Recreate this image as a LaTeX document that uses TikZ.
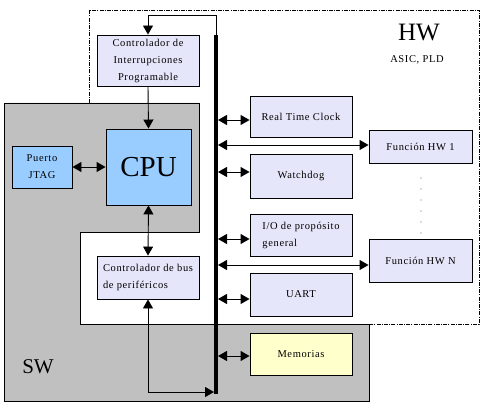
\documentclass[tikz,border=0pt]{standalone}
\usepackage{fontspec}
\setmainfont{Liberation Serif}
\newfontfamily\spaced[LetterSpace=6]{Liberation Serif}
\usetikzlibrary{arrows.meta}
\definecolor{lav}{RGB}{230,230,250}
\definecolor{lblue}{RGB}{153,204,255}
\definecolor{gry}{RGB}{192,192,192}
\definecolor{lyel}{RGB}{255,255,204}
\tikzset{
  box/.style={draw=black, line width=0.9pt, fill=lav, inner sep=0pt, font=\spaced\fontsize{10.5}{17}\selectfont},
  conn/.style={line width=0.9pt, {Triangle[length=9pt,width=10pt]}-{Triangle[length=9pt,width=10pt]}},
  oneway/.style={line width=0.9pt, -{Triangle[length=9pt,width=10pt]}},
  hwline/.style={line width=0.8pt, dash pattern=on 4pt off 1.2pt on 1pt off 1.2pt},
  dotmark/.style={fill=black!60, inner sep=0pt, minimum size=1.2pt, circle}
}
\begin{document}
\begin{tikzpicture}[x=1pt,y=-1pt]
\useasboundingbox (0,0) rectangle (487,406);
% HW region outline (dash-dot)
\draw[hwline] (89,103) -- (89,10) -- (479,10) -- (479,324) -- (369,324);
% SW gray region
\draw[fill=gry, line width=0.9pt] (4,103) -- (199,103) -- (199,232) -- (80,232) -- (80,324) -- (369,324) -- (369,401) -- (4,401) -- cycle;
% labels
\node[font=\fontsize{25}{25}\selectfont] (hw) at (419,33) {HW};
\node[font=\spaced\fontsize{10.5}{12}\selectfont] (asic) at (417,60) {ASIC, PLD};
\node[font=\fontsize{21}{21}\selectfont] (sw) at (38,367) {SW};
% boxes
\node[box, minimum width=102pt, minimum height=51pt, align=center] (intc) at (148,60.5) {Controlador de\\Interrupciones\\Programable};
\node[box, fill=lblue, minimum width=85pt, minimum height=76pt, font=\fontsize{29}{29}\selectfont] (cpu) at (148.5,167) {CPU};
\node[box, fill=lblue, minimum width=60pt, minimum height=42pt, align=center] (jtag) at (42,167) {Puerto\\JTAG};
\node[box, minimum width=102pt, minimum height=43pt, align=left] (busc) at (148,277.5) {Controlador de bus\\de perif\'ericos};
\node[box, minimum width=102pt, minimum height=41pt] (rtc) at (301,116.5) {Real Time Clock};
\node[box, minimum width=102pt, minimum height=44pt] (wd) at (301,176) {Watchdog};
\node[box, minimum width=102pt, minimum height=42pt, align=left] (io) at (301,235) {I/O de prop\'osito\\general\hspace*{3.2em}};
\node[box, minimum width=102pt, minimum height=43pt] (uart) at (301,294.5) {UART};
\node[box, fill=lyel, minimum width=102pt, minimum height=42pt] (mem) at (301,354) {Memorias};
\node[box, minimum width=103pt, minimum height=33pt] (f1) at (420.5,146.5) {Funci\'on HW 1};
\node[box, minimum width=103pt, minimum height=43pt] (fn) at (420.5,260.5) {Funci\'on HW N};
% dots
\foreach \yy [count=\i] in {178,189,200,211,222,233} \node[dotmark] (d\i) at (421,\yy) {};
% bus
\coordinate (bustop) at (216,35);
\coordinate (busbot) at (216,394);
\draw[line width=3.6pt] (bustop) -- (busbot);
\coordinate (ttop) at (216,15.5);
\draw[oneway] (bustop) -- (ttop) -| (intc.north);
% CPU connections
\draw[oneway] (intc.south) -- (cpu.north);
\draw[conn] (jtag.east) -- (cpu.west);
\draw[conn] (cpu.south) -- (busc.north);
\coordinate (bin) at (214,392);
\draw[conn] (busc.south) |- (bin);
% bus to peripherals
\foreach \nm/\yy in {rtc/120, wd/172, io/239, uart/299, mem/356} {
  \coordinate (b\nm) at (218,\yy);
  \draw[conn] (b\nm) -- (b\nm -| \nm.west);
}
\coordinate (bf1) at (218,145);
\draw[conn] (bf1) -- (bf1 -| f1.west);
\coordinate (bfn) at (218,265);
\draw[conn] (bfn) -- (bfn -| fn.west);
\end{tikzpicture}
\end{document}
